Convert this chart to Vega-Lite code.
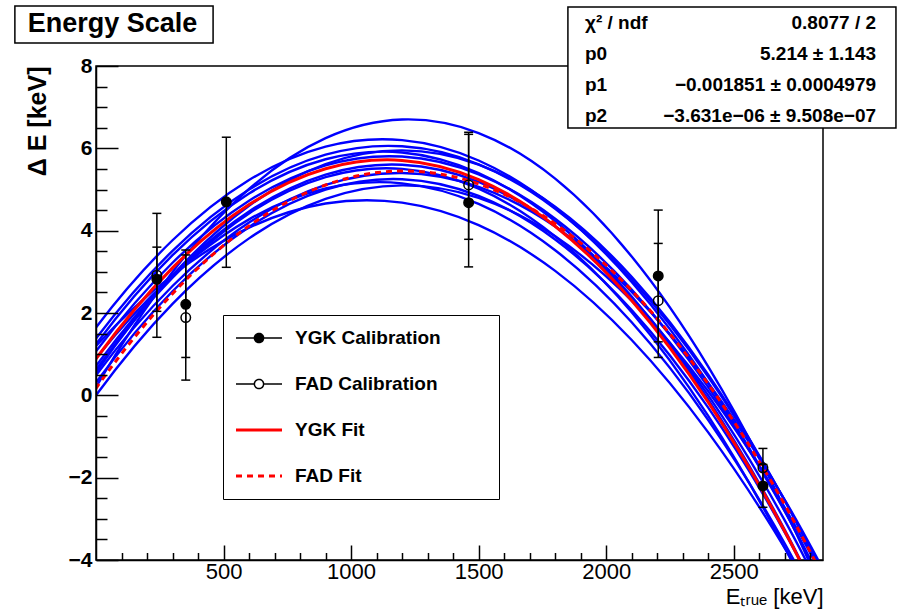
{
  "$schema": "https://vega.github.io/schema/vega-lite/v6.json",
  "width": 727,
  "height": 494,
  "autosize": {"type": "none"},
  "padding": {"left": 96, "top": 66, "right": 76, "bottom": 53},
  "background": "white",
  "config": {
    "view": {"stroke": "black", "strokeWidth": 1.5, "fill": "white"},
    "font": "Liberation Sans",
    "axis": {"labelOverlap": false, "labelFlush": false, "grid": false}
  },
  "resolve": {"axis": {"x": "independent", "y": "independent"}},
  "datasets": {
    "blue": [
      {"c":"b1","keV":-300,"dE":-3.378},{"c":"b1","keV":0,"dE":0.2},{"c":"b1","keV":300,"dE":2.997},{"c":"b1","keV":600,"dE":5.013},{"c":"b1","keV":900,"dE":6.247},{"c":"b1","keV":1200,"dE":6.7},{"c":"b1","keV":1500,"dE":6.372},{"c":"b1","keV":1800,"dE":5.263},{"c":"b1","keV":2100,"dE":3.372},{"c":"b1","keV":2400,"dE":0.7},{"c":"b1","keV":2700,"dE":-2.753},{"c":"b1","keV":3000,"dE":-6.988},
      {"c":"b2","keV":-300,"dE":-1.12},{"c":"b2","keV":0,"dE":1.65},{"c":"b2","keV":300,"dE":3.767},{"c":"b2","keV":600,"dE":5.231},{"c":"b2","keV":900,"dE":6.042},{"c":"b2","keV":1200,"dE":6.2},{"c":"b2","keV":1500,"dE":5.705},{"c":"b2","keV":1800,"dE":4.556},{"c":"b2","keV":2100,"dE":2.755},{"c":"b2","keV":2400,"dE":0.3},{"c":"b2","keV":2700,"dE":-2.808},{"c":"b2","keV":3000,"dE":-6.569},
      {"c":"b3","keV":-300,"dE":-1.392},{"c":"b3","keV":0,"dE":1.38},{"c":"b3","keV":300,"dE":3.51},{"c":"b3","keV":600,"dE":4.999},{"c":"b3","keV":900,"dE":5.845},{"c":"b3","keV":1200,"dE":6.05},{"c":"b3","keV":1500,"dE":5.613},{"c":"b3","keV":1800,"dE":4.534},{"c":"b3","keV":2100,"dE":2.813},{"c":"b3","keV":2400,"dE":0.45},{"c":"b3","keV":2700,"dE":-2.555},{"c":"b3","keV":3000,"dE":-6.201},
      {"c":"b4","keV":-300,"dE":-1.591},{"c":"b4","keV":0,"dE":1.24},{"c":"b4","keV":300,"dE":3.404},{"c":"b4","keV":600,"dE":4.903},{"c":"b4","keV":900,"dE":5.734},{"c":"b4","keV":1200,"dE":5.9},{"c":"b4","keV":1500,"dE":5.399},{"c":"b4","keV":1800,"dE":4.233},{"c":"b4","keV":2100,"dE":2.399},{"c":"b4","keV":2400,"dE":-0.1},{"c":"b4","keV":2700,"dE":-3.266},{"c":"b4","keV":3000,"dE":-7.098},
      {"c":"b5","keV":-300,"dE":-1.727},{"c":"b5","keV":0,"dE":1.07},{"c":"b5","keV":300,"dE":3.221},{"c":"b5","keV":600,"dE":4.726},{"c":"b5","keV":900,"dE":5.586},{"c":"b5","keV":1200,"dE":5.8},{"c":"b5","keV":1500,"dE":5.368},{"c":"b5","keV":1800,"dE":4.291},{"c":"b5","keV":2100,"dE":2.568},{"c":"b5","keV":2400,"dE":0.2},{"c":"b5","keV":2700,"dE":-2.814},{"c":"b5","keV":3000,"dE":-6.474},
      {"c":"b6","keV":-300,"dE":-2.152},{"c":"b6","keV":0,"dE":0.71},{"c":"b6","keV":300,"dE":2.916},{"c":"b6","keV":600,"dE":4.466},{"c":"b6","keV":900,"dE":5.361},{"c":"b6","keV":1200,"dE":5.6},{"c":"b6","keV":1500,"dE":5.183},{"c":"b6","keV":1800,"dE":4.111},{"c":"b6","keV":2100,"dE":2.383},{"c":"b6","keV":2400,"dE":0},{"c":"b6","keV":2700,"dE":-3.039},{"c":"b6","keV":3000,"dE":-6.734},
      {"c":"b7","keV":-300,"dE":-2.3},{"c":"b7","keV":0,"dE":0.62},{"c":"b7","keV":300,"dE":2.86},{"c":"b7","keV":600,"dE":4.42},{"c":"b7","keV":900,"dE":5.3},{"c":"b7","keV":1200,"dE":5.5},{"c":"b7","keV":1500,"dE":5.02},{"c":"b7","keV":1800,"dE":3.86},{"c":"b7","keV":2100,"dE":2.02},{"c":"b7","keV":2400,"dE":-0.5},{"c":"b7","keV":2700,"dE":-3.7},{"c":"b7","keV":3000,"dE":-7.58},
      {"c":"b8","keV":-300,"dE":-2.302},{"c":"b8","keV":0,"dE":0.49},{"c":"b8","keV":300,"dE":2.656},{"c":"b8","keV":600,"dE":4.196},{"c":"b8","keV":900,"dE":5.111},{"c":"b8","keV":1200,"dE":5.4},{"c":"b8","keV":1500,"dE":5.063},{"c":"b8","keV":1800,"dE":4.101},{"c":"b8","keV":2100,"dE":2.513},{"c":"b8","keV":2400,"dE":0.3},{"c":"b8","keV":2700,"dE":-2.539},{"c":"b8","keV":3000,"dE":-6.004},
      {"c":"b9","keV":-300,"dE":-2.564},{"c":"b9","keV":0,"dE":0.31},{"c":"b9","keV":300,"dE":2.528},{"c":"b9","keV":600,"dE":4.091},{"c":"b9","keV":900,"dE":4.998},{"c":"b9","keV":1200,"dE":5.25},{"c":"b9","keV":1500,"dE":4.846},{"c":"b9","keV":1800,"dE":3.786},{"c":"b9","keV":2100,"dE":2.071},{"c":"b9","keV":2400,"dE":-0.3},{"c":"b9","keV":2700,"dE":-3.327},{"c":"b9","keV":3000,"dE":-7.009},
      {"c":"b10","keV":-300,"dE":-2.853},{"c":"b10","keV":0,"dE":0},{"c":"b10","keV":300,"dE":2.222},{"c":"b10","keV":600,"dE":3.813},{"c":"b10","keV":900,"dE":4.772},{"c":"b10","keV":1200,"dE":5.1},{"c":"b10","keV":1500,"dE":4.797},{"c":"b10","keV":1800,"dE":3.863},{"c":"b10","keV":2100,"dE":2.297},{"c":"b10","keV":2400,"dE":0.1},{"c":"b10","keV":2700,"dE":-2.728},{"c":"b10","keV":3000,"dE":-6.188},
      {"c":"b11","keV":-300,"dE":-1.086},{"c":"b11","keV":0,"dE":1.2},{"c":"b11","keV":300,"dE":2.919},{"c":"b11","keV":600,"dE":4.073},{"c":"b11","keV":900,"dE":4.659},{"c":"b11","keV":1200,"dE":4.68},{"c":"b11","keV":1500,"dE":4.134},{"c":"b11","keV":1800,"dE":3.023},{"c":"b11","keV":2100,"dE":1.344},{"c":"b11","keV":2400,"dE":-0.9},{"c":"b11","keV":2700,"dE":-3.711},{"c":"b11","keV":3000,"dE":-7.088},
      {"c":"b12","keV":-300,"dE":-1.725},{"c":"b12","keV":0,"dE":0.9},{"c":"b12","keV":300,"dE":2.9},{"c":"b12","keV":600,"dE":4.275},{"c":"b12","keV":900,"dE":5.025},{"c":"b12","keV":1200,"dE":5.15},{"c":"b12","keV":1500,"dE":4.65},{"c":"b12","keV":1800,"dE":3.525},{"c":"b12","keV":2100,"dE":1.775},{"c":"b12","keV":2400,"dE":-0.6},{"c":"b12","keV":2700,"dE":-3.6},{"c":"b12","keV":3000,"dE":-7.225},
      {"c":"b13","keV":-300,"dE":-2.495},{"c":"b13","keV":0,"dE":0.55},{"c":"b13","keV":300,"dE":2.917},{"c":"b13","keV":600,"dE":4.606},{"c":"b13","keV":900,"dE":5.617},{"c":"b13","keV":1200,"dE":5.95},{"c":"b13","keV":1500,"dE":5.605},{"c":"b13","keV":1800,"dE":4.581},{"c":"b13","keV":2100,"dE":2.88},{"c":"b13","keV":2400,"dE":0.5},{"c":"b13","keV":2700,"dE":-2.558},{"c":"b13","keV":3000,"dE":-6.294}
    ],
    "ygkfit": [
      {"keV":-300,"dE":-1.988},{"keV":0,"dE":0.887},{"keV":300,"dE":3.095},{"keV":600,"dE":4.634},{"keV":900,"dE":5.504},{"keV":1200,"dE":5.707},{"keV":1500,"dE":5.242},{"keV":1800,"dE":4.108},{"keV":2100,"dE":2.306},{"keV":2400,"dE":-0.164},{"keV":2700,"dE":-3.302},{"keV":3000,"dE":-7.108}
    ],
    "fadfit": [
      {"keV":-300,"dE":-2.785},{"keV":0,"dE":0.17},{"keV":300,"dE":2.47},{"keV":600,"dE":4.117},{"keV":900,"dE":5.11},{"keV":1200,"dE":5.45},{"keV":1500,"dE":5.136},{"keV":1800,"dE":4.168},{"keV":2100,"dE":2.547},{"keV":2400,"dE":0.273},{"keV":2700,"dE":-2.655},{"keV":3000,"dE":-6.238}
    ],
    "points": [
      {"series":"FAD Calibration","keV":238.6,"dE":2.92,"lo":1.41,"hi":4.42},
      {"series":"FAD Calibration","keV":351.9,"dE":1.89,"lo":0.37,"hi":3.53},
      {"series":"FAD Calibration","keV":1460.8,"dE":5.11,"lo":3.79,"hi":6.39},
      {"series":"FAD Calibration","keV":2204.1,"dE":2.3,"lo":0.92,"hi":3.69},
      {"series":"FAD Calibration","keV":2614.5,"dE":-1.76,"lo":-2.24,"hi":-1.29},
      {"series":"YGK Calibration","keV":238.6,"dE":2.82,"lo":2.04,"hi":3.6},
      {"series":"YGK Calibration","keV":351.9,"dE":2.21,"lo":0.92,"hi":3.41},
      {"series":"YGK Calibration","keV":510.8,"dE":4.7,"lo":3.11,"hi":6.27},
      {"series":"YGK Calibration","keV":1460.8,"dE":4.68,"lo":3.12,"hi":6.34},
      {"series":"YGK Calibration","keV":2204.1,"dE":2.9,"lo":1.3,"hi":4.5},
      {"series":"YGK Calibration","keV":2614.5,"dE":-2.2,"lo":-2.72,"hi":-1.68}
    ],
    "legend": [
      {"series":"YGK Calibration"},{"series":"FAD Calibration"},{"series":"YGK Fit"},{"series":"FAD Fit"}
    ]
  },
  "layer": [
    {
      "data": {"name": "blue"},
      "mark": {"type": "line", "color": "#0000ff", "strokeWidth": 2.4, "clip": true, "interpolate": "cardinal", "tension": 0},
      "encoding": {
        "x": {
          "field": "keV", "type": "quantitative",
          "scale": {"domain": [0, 2850], "nice": false, "zero": false},
          "axis": {
            "orient": "bottom",
            "values": [500, 1000, 1500, 2000, 2500],
            "format": "d",
            "tickSize": -15,
            "tickColor": "black", "tickWidth": 1.5,
            "domainColor": "black", "domainWidth": 1.5,
            "grid": false,
            "labelFont": "Liberation Sans", "labelFontSize": 22, "labelColor": "black",
            "labelPadding": 16, "labelFlush": false, "labelOverlap": false,
            "title": "E\u209c\u1d63\u1d64\u2091 [keV]",
            "titleAnchor": "end", "titleFont": "Liberation Sans", "titleFontSize": 22, "titleFontWeight": "normal", "titleColor": "black", "titlePadding": 4,
            "zindex": 1
          }
        },
        "y": {
          "field": "dE", "type": "quantitative",
          "scale": {"domain": [-4, 8], "nice": false, "zero": false},
          "axis": {
            "orient": "left",
            "values": [-4, -2, 0, 2, 4, 6, 8],
            "tickSize": -22,
            "tickColor": "black", "tickWidth": 1.5,
            "domainColor": "black", "domainWidth": 1.5,
            "grid": false,
            "labelFont": "Liberation Sans", "labelFontSize": 21, "labelFontWeight": "bold", "labelColor": "black",
            "labelPadding": 26, "labelFlush": false, "labelOverlap": false,
            "title": "\u0394 E [keV]",
            "titleAnchor": "end", "titleFont": "Liberation Sans", "titleFontSize": 25, "titleFontWeight": "bold", "titleColor": "black", "titlePadding": 18,
            "zindex": 1
          }
        },
        "detail": {"field": "c"}
      }
    },
    {
      "data": {"name": "ygkfit"},
      "mark": {"type": "line", "color": "#ff0000", "strokeWidth": 3, "clip": true, "interpolate": "cardinal", "tension": 0},
      "encoding": {
        "x": {
          "field": "keV", "type": "quantitative",
          "axis": {
            "orient": "bottom",
            "values": [100,200,300,400,600,700,800,900,1100,1200,1300,1400,1600,1700,1800,1900,2100,2200,2300,2400,2600,2700,2800],
            "tickSize": -7.5, "tickColor": "black", "tickWidth": 1.5,
            "labels": false, "domain": false, "grid": false, "title": null, "zindex": 1
          }
        },
        "y": {
          "field": "dE", "type": "quantitative",
          "axis": {
            "orient": "left",
            "values": [-3.5,-3,-2.5,-1.5,-1,-0.5,0.5,1,1.5,2.5,3,3.5,4.5,5,5.5,6.5,7,7.5],
            "tickSize": -11, "tickColor": "black", "tickWidth": 1.5,
            "labels": false, "domain": false, "grid": false, "title": null, "zindex": 1
          }
        }
      }
    },
    {
      "data": {"name": "fadfit"},
      "mark": {"type": "line", "color": "#ff0000", "strokeWidth": 3, "strokeDash": [6, 5], "clip": true, "interpolate": "cardinal", "tension": 0},
      "encoding": {
        "x": {"field": "keV", "type": "quantitative", "axis": null},
        "y": {"field": "dE", "type": "quantitative", "axis": null}
      }
    },
    {
      "data": {"name": "points"},
      "mark": {"type": "rule", "color": "black", "strokeWidth": 1.5},
      "encoding": {
        "x": {"field": "keV", "type": "quantitative", "axis": null},
        "y": {"field": "lo", "type": "quantitative", "axis": null},
        "y2": {"field": "hi"}
      }
    },
    {
      "data": {"name": "points"},
      "mark": {"type": "tick", "orient": "horizontal", "color": "black", "size": 9, "thickness": 1.5, "opacity": 1},
      "encoding": {
        "x": {"field": "keV", "type": "quantitative", "axis": null},
        "y": {"field": "lo", "type": "quantitative", "axis": null}
      }
    },
    {
      "data": {"name": "points"},
      "mark": {"type": "tick", "orient": "horizontal", "color": "black", "size": 9, "thickness": 1.5, "opacity": 1},
      "encoding": {
        "x": {"field": "keV", "type": "quantitative", "axis": null},
        "y": {"field": "hi", "type": "quantitative", "axis": null}
      }
    },
    {
      "data": {"name": "points"},
      "mark": {"type": "point", "shape": "circle", "size": 90, "strokeWidth": 1.5, "stroke": "black", "opacity": 1},
      "encoding": {
        "x": {"field": "keV", "type": "quantitative", "axis": null},
        "y": {"field": "dE", "type": "quantitative", "axis": null},
        "fill": {"condition": {"test": "datum.series === 'YGK Calibration'", "value": "black"}, "value": "transparent"}
      }
    },
    {
      "data": {"name": "legend"},
      "mark": {"type": "point", "opacity": 0, "strokeWidth": 1.5, "fill": "transparent"},
      "encoding": {
        "shape": {
          "field": "series", "type": "nominal",
          "scale": {
            "domain": ["YGK Calibration", "FAD Calibration", "YGK Fit", "FAD Fit"],
            "range": [
              "M-1,0H1M-0.2,0A0.2,0.2,0,1,0,0.2,0A0.2,0.2,0,1,0,-0.2,0M-0.14,0A0.14,0.14,0,1,0,0.14,0A0.14,0.14,0,1,0,-0.14,0M-0.08,0A0.08,0.08,0,1,0,0.08,0A0.08,0.08,0,1,0,-0.08,0M-0.03,0A0.03,0.03,0,1,0,0.03,0A0.03,0.03,0,1,0,-0.03,0",
              "M-1,0H-0.2M0.2,0H1M-0.2,0A0.2,0.2,0,1,0,0.2,0A0.2,0.2,0,1,0,-0.2,0",
              "M-1,-0.03H1M-1,0.03H1",
              "M-1,-0.03H1M-1,0.03H1"
            ]
          },
          "legend": {"title": null, "orient": "none", "legendX": 127, "legendY": 249, "strokeColor": "black", "fillColor": "white", "padding": 0, "clipHeight": 46, "symbolSize": 2116, "symbolOffset": 12, "labelOffset": 12, "labelFont": "Liberation Sans", "labelFontSize": 19, "labelFontWeight": "bold", "labelColor": "black", "labelLimit": 400, "rowPadding": 0, "symbolOpacity": 1, "symbolStrokeWidth": 1.5, "labelExpr": "datum.label + '\u00a0\u00a0\u00a0\u00a0\u00a0\u00a0\u00a0\u00a0\u00a0\u00a0\u00a0\u200b'"}
        },
        "stroke": {
          "field": "series", "type": "nominal",
          "scale": {"domain": ["YGK Calibration", "FAD Calibration", "YGK Fit", "FAD Fit"], "range": ["black", "black", "#ff0000", "#ff0000"]},
          "legend": {"title": null, "orient": "none", "legendX": 127, "legendY": 249, "strokeColor": "black", "fillColor": "white", "padding": 0, "clipHeight": 46, "symbolSize": 2116, "symbolOffset": 12, "labelOffset": 12, "labelFont": "Liberation Sans", "labelFontSize": 19, "labelFontWeight": "bold", "labelColor": "black", "labelLimit": 400, "rowPadding": 0, "symbolOpacity": 1, "symbolStrokeWidth": 1.5, "labelExpr": "datum.label + '\u00a0\u00a0\u00a0\u00a0\u00a0\u00a0\u00a0\u00a0\u00a0\u00a0\u00a0\u200b'"}
        },
        "strokeDash": {
          "field": "series", "type": "nominal",
          "scale": {"domain": ["YGK Calibration", "FAD Calibration", "YGK Fit", "FAD Fit"], "range": [[1, 0], [1, 0], [1, 0], [6, 5]]},
          "legend": {"title": null, "orient": "none", "legendX": 127, "legendY": 249, "strokeColor": "black", "fillColor": "white", "padding": 0, "clipHeight": 46, "symbolSize": 2116, "symbolOffset": 12, "labelOffset": 12, "labelFont": "Liberation Sans", "labelFontSize": 19, "labelFontWeight": "bold", "labelColor": "black", "labelLimit": 400, "rowPadding": 0, "symbolOpacity": 1, "symbolStrokeWidth": 1.5, "labelExpr": "datum.label + '\u00a0\u00a0\u00a0\u00a0\u00a0\u00a0\u00a0\u00a0\u00a0\u00a0\u00a0\u200b'"}
        }
      }
    },
    {
      "data": {"values": [{}]},
      "mark": {"type": "rect", "fill": "white", "stroke": "black", "strokeWidth": 1.5},
      "encoding": {
        "x": {"datum": -318, "axis": null}, "x2": {"datum": 459},
        "y": {"datum": 9.457, "axis": null}, "y2": {"datum": 8.558}
      }
    },
    {
      "data": {"values": [{}]},
      "mark": {"type": "text", "align": "center", "baseline": "alphabetic", "font": "Liberation Sans", "fontWeight": "bold", "fontSize": 27, "color": "black"},
      "encoding": {
        "x": {"datum": 64.7, "axis": null}, "y": {"datum": 8.825, "axis": null},
        "text": {"value": "Energy Scale"}
      }
    },
    {
      "data": {"values": [{}]},
      "mark": {"type": "rect", "fill": "white", "stroke": "black", "strokeWidth": 1.5},
      "encoding": {
        "x": {"datum": 1850, "axis": null}, "x2": {"datum": 3136},
        "y": {"datum": 9.432, "axis": null}, "y2": {"datum": 6.493}
      }
    },
    {
      "data": {"values": [{}]},
      "mark": {"type": "text", "align": "left", "baseline": "alphabetic", "font": "Liberation Sans", "fontWeight": "bold", "fontSize": 19, "lineHeight": 31, "color": "black"},
      "encoding": {
        "x": {"datum": 1917, "axis": null}, "y": {"datum": 8.898, "axis": null},
        "text": {"value": ["\u03c7\u00b2 / ndf", "p0", "p1", "p2"]}
      }
    },
    {
      "data": {"values": [{}]},
      "mark": {"type": "text", "align": "right", "baseline": "alphabetic", "font": "Liberation Sans", "fontWeight": "bold", "fontSize": 19, "lineHeight": 31, "color": "black"},
      "encoding": {
        "x": {"datum": 3058, "axis": null}, "y": {"datum": 8.898, "axis": null},
        "text": {"value": ["0.8077 / 2", "5.214 \u00b1 1.143", "\u22120.001851 \u00b1 0.0004979", "\u22123.631e\u221206 \u00b1 9.508e\u221207"]}
      }
    }
  ]
}
